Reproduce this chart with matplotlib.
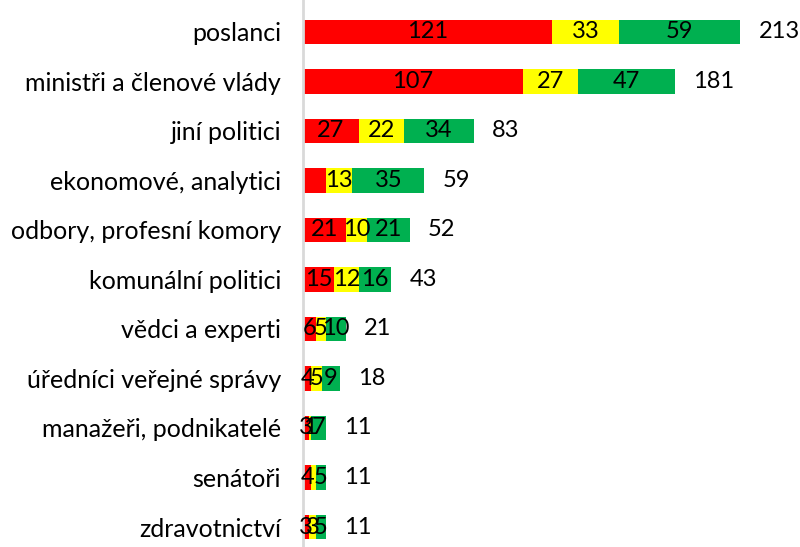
import numpy as np
import matplotlib.pyplot as plt

plt.rcParams['font.family'] = ['Lato', 'DejaVu Sans']

# data
categories = ['poslanci', 'ministři a členové vlády', 'jiní politici',
              'ekonomové, analytici', 'odbory, profesní komory',
              'komunální politici', 'vědci a experti',
              'úředníci veřejné správy', 'manažeři, podnikatelé',
              'senátoři', 'zdravotnictví']
red_vals = [121, 107, 27, 11, 21, 15, 6, 4, 3, 4, 3]
yellow_vals = [33, 27, 22, 13, 10, 12, 5, 5, 1, 2, 3]
green_vals = [59, 47, 34, 35, 21, 16, 10, 9, 7, 5, 5]
# labels that are not shown in the original (series index, row index)
hidden = [(0, 3), (1, 9)]

colors = ['#FF0000', '#FFFF00', '#00B050']
series = [red_vals, yellow_vals, green_vals]
FS = 17

fig = plt.figure(figsize=(8, 5.47), dpi=100)
ax = fig.add_axes([0.379, 0, 0.621, 1])

y = np.arange(len(categories))
left = np.zeros(len(categories))
for k, (vals, c) in enumerate(zip(series, colors)):
    vals = np.array(vals)
    bars = ax.barh(y, vals, left=left, height=0.5, color=c)
    for i, b in enumerate(bars):
        if (k, i) in hidden:
            continue
        ax.text(left[i] + vals[i] / 2, y[i], str(vals[i]),
                ha='center', va='center', fontsize=FS, color='black')
    left = left + vals

totals = left
for i, t in enumerate(totals):
    ax.annotate(str(int(t)), (t, y[i]), xytext=(13, 0),
                textcoords='offset points', ha='left', va='center',
                fontsize=FS)

ax.set_yticks(y)
ax.set_yticklabels(categories, fontsize=18)
ax.tick_params(axis='y', length=0, pad=16)
ax.set_xticks([])
ax.set_xlim(0, 242)
ax.set_ylim(10.404, -0.646)
for s in ['top', 'right', 'bottom']:
    ax.spines[s].set_visible(False)
ax.spines['left'].set_color('#D9D9D9')
ax.spines['left'].set_linewidth(2)

fig.savefig('out.png', dpi=100)
